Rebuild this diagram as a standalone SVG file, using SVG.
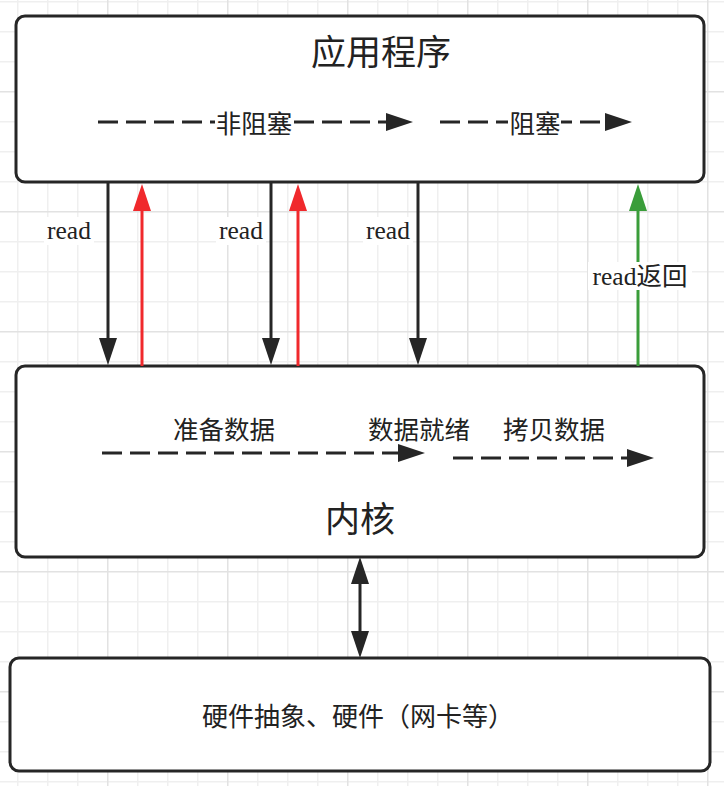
<svg xmlns="http://www.w3.org/2000/svg" width="724" height="786" viewBox="0 0 724 786">
  <style>
    .box { fill: #ffffff; stroke: #262626; stroke-width: 3; }
    .edge { fill: none; stroke-width: 3; }
    .dash { fill: none; stroke: #262626; stroke-width: 3; stroke-dasharray: 20 8; }
    .k { stroke: #262626; }
    .r { stroke: #f0292c; }
    .g { stroke: #3a9d3a; }
    .lbl { font-family: "Liberation Serif", "Noto Sans CJK SC", serif; font-size: 25.5px; fill: #222222; text-anchor: middle; dominant-baseline: central; }
    .big { font-size: 35px; }
    .hw { font-size: 26px; }
    .bg { fill: #ffffff; }
  </style>
  <defs>
    <pattern id="grid" patternUnits="userSpaceOnUse" x="107" y="91" width="120" height="120">
      <rect width="120" height="120" fill="#ffffff"/>
      <g fill="#efefef">
        <rect x="30" y="0" width="1.5" height="120"/>
        <rect x="60" y="0" width="1.5" height="120"/>
        <rect x="90" y="0" width="1.5" height="120"/>
        <rect x="0" y="30" width="120" height="1.5"/>
        <rect x="0" y="60" width="120" height="1.5"/>
        <rect x="0" y="90" width="120" height="1.5"/>
      </g>
      <g fill="#e2e2e2">
        <rect x="0" y="0" width="1.5" height="120"/>
        <rect x="0" y="0" width="120" height="1.5"/>
      </g>
    </pattern>
    <marker id="ak" markerUnits="userSpaceOnUse" markerWidth="28" markerHeight="20" refX="0" refY="9" orient="auto-start-reverse">
      <path d="M0,0 L27,9 L0,18 Z" fill="#262626"/>
    </marker>
    <marker id="ar" markerUnits="userSpaceOnUse" markerWidth="28" markerHeight="20" refX="0" refY="9" orient="auto">
      <path d="M0,0 L27,9 L0,18 Z" fill="#f0292c"/>
    </marker>
    <marker id="ag" markerUnits="userSpaceOnUse" markerWidth="28" markerHeight="20" refX="0" refY="9" orient="auto">
      <path d="M0,0 L27,9 L0,18 Z" fill="#3a9d3a"/>
    </marker>
  </defs>

  <rect width="724" height="786" fill="url(#grid)"/>

  <!-- user space box -->
  <g id="app">
    <rect class="box" x="16" y="16" width="688" height="166" rx="9"/>
    <text class="lbl big" x="381" y="53">应用程序</text>
  </g>

  <!-- kernel box -->
  <g id="kernel">
    <rect class="box" x="16" y="366" width="688" height="191" rx="9"/>
    <text class="lbl big" x="360" y="520">内核</text>
  </g>

  <!-- hardware box -->
  <g id="hardware">
    <rect class="box" x="10" y="658" width="700" height="113" rx="9"/>
    <text class="lbl hw" x="358" y="717">硬件抽象、硬件（网卡等）</text>
  </g>

  <g id="connectors">
    <!-- timeline inside the application box -->
    <line class="dash" x1="98" y1="122" x2="386" y2="122" marker-end="url(#ak)"/>
    <rect class="bg" x="215" y="110" width="78" height="28"/>
    <text class="lbl" x="254" y="124">非阻塞</text>
    <line class="dash" x1="440" y1="122" x2="605" y2="122" marker-end="url(#ak)"/>
    <rect class="bg" x="508" y="110" width="53" height="28"/>
    <text class="lbl" x="535" y="124">阻塞</text>

    <!-- timeline inside the kernel box -->
    <line class="dash" x1="102" y1="453" x2="398" y2="453" marker-end="url(#ak)"/>
    <text class="lbl" x="224" y="430">准备数据</text>
    <text class="lbl" x="419" y="430">数据就绪</text>
    <line class="dash" x1="453" y1="458" x2="627" y2="458" marker-end="url(#ak)"/>
    <text class="lbl" x="554" y="430">拷贝数据</text>

    <!-- read calls and returns -->
    <line class="edge k" x1="108" y1="182" x2="108" y2="338" marker-end="url(#ak)"/>
    <line class="edge r" x1="142" y1="366" x2="142" y2="211" marker-end="url(#ar)"/>
    <line class="edge k" x1="271" y1="182" x2="271" y2="338" marker-end="url(#ak)"/>
    <line class="edge r" x1="298" y1="366" x2="298" y2="211" marker-end="url(#ar)"/>
    <line class="edge k" x1="418" y1="182" x2="418" y2="338" marker-end="url(#ak)"/>
    <line class="edge g" x1="638" y1="366" x2="638" y2="211" marker-end="url(#ag)"/>

    <rect class="bg" x="44" y="217" width="50" height="28"/>
    <text class="lbl" x="69" y="230">read</text>
    <rect class="bg" x="216" y="217" width="50" height="28"/>
    <text class="lbl" x="241" y="230">read</text>
    <rect class="bg" x="363" y="217" width="50" height="28"/>
    <text class="lbl" x="388" y="230">read</text>
    <rect class="bg" x="588" y="262" width="104" height="28"/>
    <text class="lbl" x="640" y="276">read返回</text>

    <!-- kernel to hardware -->
    <line class="edge k" x1="360" y1="584" x2="360" y2="631" marker-start="url(#ak)" marker-end="url(#ak)"/>
  </g>
</svg>
